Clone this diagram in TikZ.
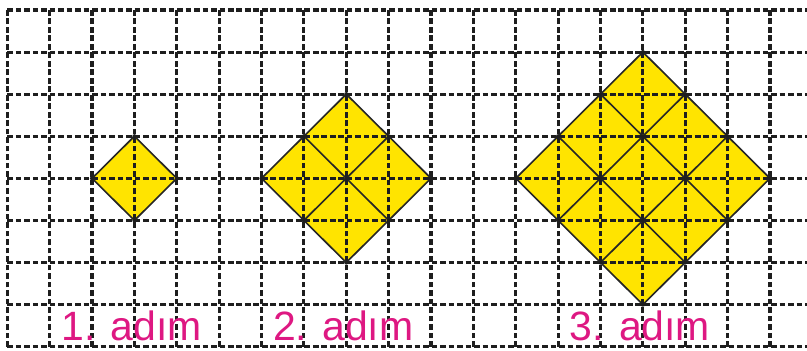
\documentclass[tikz,border=0pt]{standalone}
\usepackage{fontspec}
\setmainfont{Liberation Sans}
\definecolor{gridc}{HTML}{1E1E1E}
\definecolor{yel}{RGB}{255,228,0}
\definecolor{mag}{RGB}{222,24,130}
\begin{document}
\begin{tikzpicture}[x=1cm,y=0.9934cm,
 gridline/.style={draw=gridc,line width=2.1pt,dash pattern=on 3.8pt off 1.9pt},
 dia/.style={draw=black!85,line width=1.1pt,line join=round},
 steplabel/.style={text=mag,font=\fontsize{27.5}{30}\selectfont,inner sep=0pt,anchor=base}]
\useasboundingbox (-0.1723,-0.102) rectangle (18.874,8.237);
% yellow fills
\fill[yel] (2,4)--(3,5)--(4,4)--(3,3)--cycle;
\fill[yel] (6,4)--(8,6)--(10,4)--(8,2)--cycle;
\fill[yel] (12,4)--(15,7)--(18,4)--(15,1)--cycle;
% dashed grid
\foreach \i in {0,...,18} \draw[gridline] (\i,0)--(\i,8);
\foreach \j in {0,...,8} \draw[gridline] (0,\j)--(18.874,\j);
% diamond lines
\draw[dia] (2,4)--(3,5)--(4,4)--(3,3)--cycle;
\draw[dia] (6,4)--(8,6)--(10,4)--(8,2)--cycle;
\draw[dia] (7,5)--(9,3) (7,3)--(9,5);
\draw[dia] (12,4)--(15,7)--(18,4)--(15,1)--cycle;
\draw[dia] (13,5)--(16,2) (14,6)--(17,3) (13,3)--(16,6) (14,2)--(17,5);
% vertex dots
\foreach \p in {(2,4),(3,5),(4,4),(3,3),
  (6,4),(7,5),(8,6),(9,5),(10,4),(9,3),(8,2),(7,3),(8,4),
  (12,4),(14,4),(16,4),(18,4),(13,5),(15,5),(17,5),(13,3),(15,3),(17,3),
  (14,6),(16,6),(14,2),(16,2),(15,7),(15,1)}
  \fill[gridc] \p circle (0.05);
% labels
\node[steplabel] (l1) at (2.93,0.159) {1. adım};
\node[steplabel] (l2) at (7.93,0.159) {2. adım};
\node[steplabel] (l3) at (14.93,0.159) {3. adım};
\end{tikzpicture}
\end{document}
